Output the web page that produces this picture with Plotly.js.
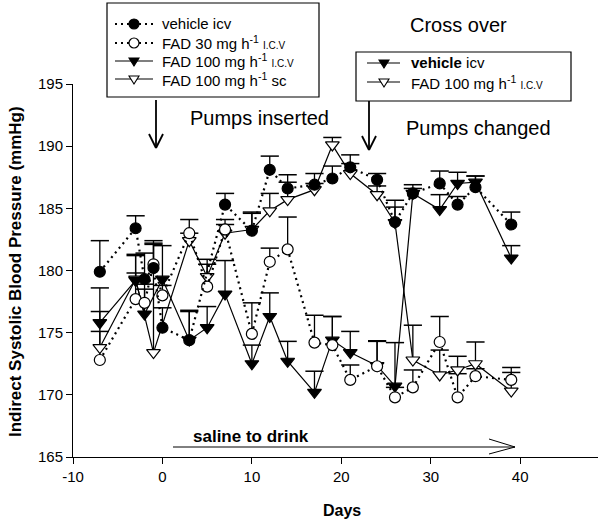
<!DOCTYPE html>
<html>
<head>
<meta charset="utf-8">
<script src="https://cdn.plot.ly/plotly-3.0.1.min.js"></script>
<style>html,body{margin:0;padding:0;background:#fff}</style>
</head>
<body>
<div id="chart" style="width:600px;height:524px"></div>
<script>
// vehicle icv (filled circle, dotted)
const vehDays = [-7, -3, -2, -1, 0, 3, 7, 10, 12, 14, 17, 19, 21, 24, 26, 28, 31, 33, 35, 39];
const vehBP = [179.9, 183.4, 179.3, 180.2, 175.4, 174.4, 185.3, 183.2, 188.1, 186.6, 186.9, 187.4, 188.3, 187.3, 183.9, 186.2, 187.0, 185.3, 186.7, 183.7];
const vehErr = [2.5, 1.0, 2.1, 2.2, 1.6, 2.4, 0.9, 1.4, 1.1, 1.1, 0.9, 1.0, 1.0, 0.5, 1.2, 0.7, 1.0, 0.65, 0.9, 1.0];

// FAD 30 icv (open circle, dotted)
const fad30Days = [-7, -3, -2, -1, 0, 3, 5, 7, 10, 12, 14, 17, 19, 21, 24, 26, 28, 31, 33, 35, 39];
const fad30BP = [172.8, 177.7, 177.4, 180.5, 178.0, 183.0, 178.7, 183.3, 174.9, 180.7, 181.7, 174.2, 174.0, 171.2, 172.3, 169.8, 170.6, 174.25, 169.8, 171.5, 171.2];
const fad30Err = [2.3, 2.1, 1.5, 1.6, 0.8, 1.1, 2.2, 0.8, 2.5, 1.1, 2.6, 2.2, 2.3, 1.2, 2.0, 0.8, 1.4, 2.05, 1.9, 0.6, 1.0];

// FAD 100 icv (filled triangle, solid) -> vehicle icv after cross over
const fad100Days = [-7, -3, -2, 0, 3, 5, 7, 10, 12, 14, 17, 19, 21, 24, 26, 28, 31, 33, 35, 39];
const fad100BP = [175.8, 179.2, 176.5, 179.3, 174.4, 175.4, 178.1, 172.5, 176.3, 172.7, 170.2, 174.4, 173.4, 172.35, 170.7, 186.2, 184.9, 187.0, 187.1, 181.0];
const fad100Err = [2.8, 2.0, 2.0, 2.7, 2.3, 1.7, 2.7, 1.5, 1.9, 1.6, 1.7, 1.9, 1.7, 2.0, 3.5, 0.4, 1.2, 0.9, 0.5, 1.0];

// FAD 100 sc (open triangle, solid) -> FAD 100 icv after cross over
const scDays = [-7, -3, -1, 3, 5, 7, 10, 12, 14, 17, 19, 21, 24, 26, 28, 31, 33, 35, 39];
const scBP = [173.8, 179.3, 173.4, 182.4, 179.5, 183.0, 183.3, 184.8, 185.7, 186.5, 190.1, 187.8, 186.1, 183.85, 172.8, 171.6, 172.0, 172.5, 170.3];
const scErr = [2.9, 2.0, 8.8, 0.6, 1.0, 0.7, 1.4, 1.4, 1.4, 0.5, 0.6, 0.8, 0.7, 1.8, 2.8, 2.0, 1.1, 1.75, 1.5];

const xTicks = [-10, 0, 10, 20, 30, 40];
const xTickText = ["-10", "0", "10", "20", "30", "40"];
const yTicks = [165, 170, 175, 180, 185, 190, 195];

const FONT = "Liberation Sans, Arial, Helvetica, sans-serif";
// plot area in pixels
const L = 73, R = 598, T = 84, B = 457;
const px = x => (x - L) / (R - L);
const py = y => (B - y) / (B - T);

const DOT = "2px,4px";

function errTraces(xs, ys, es) {
  const sx = [], sy = [];
  xs.forEach((d, i) => { sx.push(d, d, null); sy.push(ys[i], ys[i] + es[i], null); });
  return [
    { x: sx, y: sy, mode: "lines", line: { color: "black", width: 1.3 }, hoverinfo: "skip", showlegend: false },
    { x: xs, y: ys.map((v, i) => v + es[i]), mode: "markers",
      marker: { symbol: "line-ew", size: 13, line: { color: "black", width: 1.5 } }, hoverinfo: "skip", showlegend: false }
  ];
}

function series(xs, ys, symbol, fill, dash, width, size) {
  return {
    x: xs, y: ys, mode: "lines+markers", showlegend: false,
    line: { color: "black", width: width, dash: dash },
    marker: { symbol: symbol, size: size, color: fill, line: { color: "black", width: 1.2 } }
  };
}

const traces = [
  ...errTraces(vehDays, vehBP, vehErr),
  ...errTraces(fad30Days, fad30BP, fad30Err),
  ...errTraces(fad100Days, fad100BP, fad100Err),
  ...errTraces(scDays, scBP, scErr),
  series(scDays, scBP, "triangle-down", "white", "solid", 1.2, 12),
  series(fad100Days, fad100BP, "triangle-down", "black", "solid", 1.2, 12),
  series(fad30Days, fad30BP, "circle", "white", DOT, 2.2, 11),
  series(vehDays, vehBP, "circle", "black", DOT, 2.2, 11)
];

const shapes = [];
function pline(x0, y0, x1, y1, dash, w) {
  shapes.push({ type: "line", xref: "paper", yref: "paper", x0: px(x0), y0: py(y0), x1: px(x1), y1: py(y1),
    line: { color: "black", width: w || 1.2, dash: dash || "solid" }, layer: "below" });
}
function prect(x0, y0, x1, y1) {
  shapes.push({ type: "rect", xref: "paper", yref: "paper", x0: px(x0), y0: py(y0), x1: px(x1), y1: py(y1),
    line: { color: "black", width: 1.2 }, fillcolor: "white", layer: "below" });
}
function pcircle(x, y, fill) {
  shapes.push({ type: "circle", xref: "paper", yref: "paper", x0: px(x - 5), x1: px(x + 5), y0: py(y + 5), y1: py(y - 5),
    line: { color: "black", width: 1.2 }, fillcolor: fill, layer: "below" });
}
function ptri(x, y, fill) {
  const p = (a, b) => px(a) + "," + py(b);
  shapes.push({ type: "path", xref: "paper", yref: "paper",
    path: "M" + p(x - 5, y - 3) + " L" + p(x + 5, y - 3) + " L" + p(x, y + 5) + " Z",
    line: { color: "black", width: 1.1 }, fillcolor: fill, layer: "below" });
}

// legend boxes
const leg1Y = [24, 43, 61, 79];
const leg2Y = [63, 82];
prect(107, 3, 319, 97);
prect(356, 52, 571, 101);
pline(115, leg1Y[0], 153, leg1Y[0], DOT, 2.2); pcircle(134, leg1Y[0], "black");
pline(115, leg1Y[1], 153, leg1Y[1], DOT, 2.2); pcircle(134, leg1Y[1], "white");
pline(115, leg1Y[2], 153, leg1Y[2]); ptri(134, leg1Y[2], "black");
pline(115, leg1Y[3], 153, leg1Y[3]); ptri(134, leg1Y[3], "white");
pline(367, leg2Y[0], 400, leg2Y[0]); ptri(384, leg2Y[0], "black");
pline(367, leg2Y[1], 400, leg2Y[1]); ptri(384, leg2Y[1], "white");

// arrows
function vArrow(x, y0, y1) {
  pline(x, y0, x, y1, "solid", 1.8);
  pline(x - 7, y1 - 14, x, y1, "solid", 1.8);
  pline(x + 7, y1 - 14, x, y1, "solid", 1.8);
}
vArrow(156, 100, 148);
vArrow(369, 101, 150);
pline(173, 447, 515, 447, "solid", 1);
pline(489, 439, 515, 447, "solid", 1);
pline(489, 454, 515, 447, "solid", 1);

function ann(text, x, y, size, opts) {
  return Object.assign({ text: text, xref: "paper", yref: "paper", x: px(x), y: py(y), showarrow: false,
    font: { family: FONT, size: size, color: "black" }, xanchor: "left", yanchor: "middle" }, opts || {});
}
const icv = ' <span style="font-size:10px">I.C.V</span>';
const annotations = [
  ann("vehicle icv", 160, leg1Y[0], 15),
  ann("FAD 30 mg h<sup>-1</sup>" + icv, 160, leg1Y[1], 15),
  ann("FAD 100 mg h<sup>-1</sup>" + icv, 160, leg1Y[2], 15),
  ann("FAD 100 mg h<sup>-1</sup> sc", 160, leg1Y[3], 15),
  ann("<b>vehicle</b> icv", 409, leg2Y[0], 15),
  ann("FAD 100 mg h<sup>-1</sup>" + icv, 409, leg2Y[1], 15),
  ann("Cross over", 458, 25, 20, { xanchor: "center" }),
  ann("Pumps inserted", 259, 118, 20, { xanchor: "center" }),
  ann("Pumps changed", 478, 128, 20, { xanchor: "center" }),
  ann("<b>saline to drink</b>", 251, 436, 17, { xanchor: "center" }),
  ann("<b>Indirect Systolic Blood Pressure (mmHg)</b>", 15, 272, 17, { xanchor: "center", textangle: -90 }),
  ann("<b>Days</b>", 342, 510, 16, { xanchor: "center" })
];

const layout = {
  width: 600, height: 524,
  margin: { l: L, r: 600 - R, t: T, b: 524 - B, pad: 0 },
  paper_bgcolor: "white", plot_bgcolor: "white",
  font: { family: FONT, size: 15, color: "black" },
  showlegend: false,
  xaxis: {
    range: [-10, 48.7], tickmode: "array", tickvals: xTicks, ticktext: xTickText, ticks: "outside", ticklen: 6, tickwidth: 1,
    tickcolor: "black", showline: true, linecolor: "black", linewidth: 1, showgrid: false, zeroline: false,
    tickfont: { family: FONT, size: 15 }, fixedrange: true
  },
  yaxis: {
    range: [165, 195], tickmode: "array", tickvals: yTicks, ticks: "outside", ticklen: 6, tickwidth: 1,
    tickcolor: "black", showline: true, linecolor: "black", linewidth: 1, showgrid: false, zeroline: false,
    tickfont: { family: FONT, size: 15 }, fixedrange: true
  },
  shapes: shapes,
  annotations: annotations
};

Plotly.newPlot("chart", traces, layout, { displayModeBar: false, staticPlot: true });
</script>
</body>
</html>
